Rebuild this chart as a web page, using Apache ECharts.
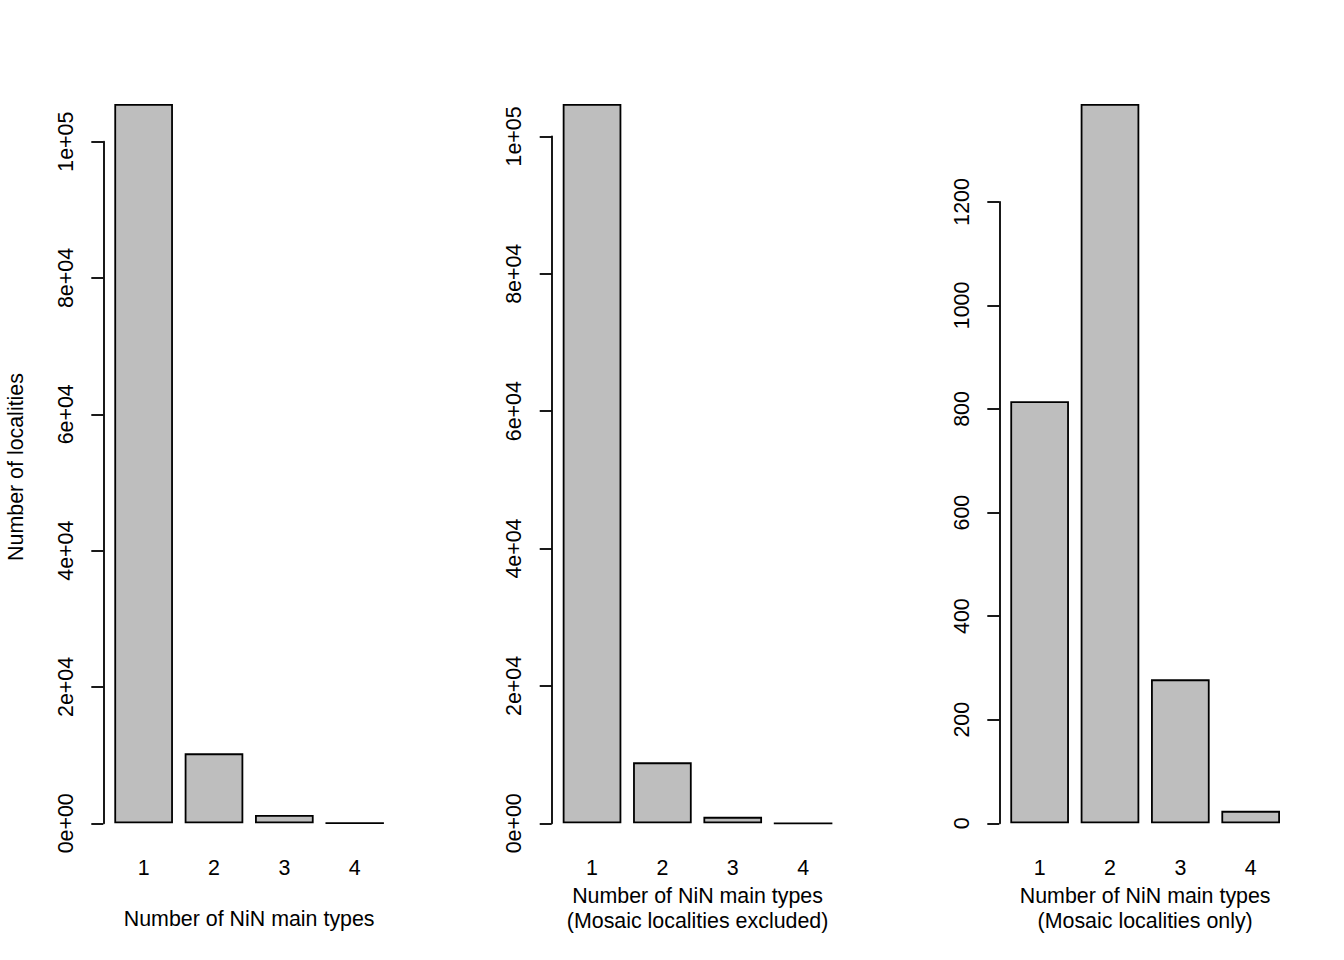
<!DOCTYPE html>
<html><head><meta charset="utf-8">
<script src="https://cdn.jsdelivr.net/npm/echarts@6/dist/echarts.min.js"></script>
<style>html,body{margin:0;padding:0;background:#fff}#c{width:1344px;height:960px}</style>
</head><body><div id="c"></div>
<script>
// ---- data ----
const categories = ['1', '2', '3', '4'];
const allLocalities = [105531, 10262, 1220, 29];
const mosaicExcluded = [104716, 8873, 942, 5];
const mosaicOnly = [815, 1389, 278, 24];
const sciTickLabels = ['0e+00', '2e+04', '4e+04', '6e+04', '8e+04', '1e+05'];
const plainTickLabels = ['0', '200', '400', '600', '800', '1000', '1200'];
const sciInterval = 20000;
const plainInterval = 200;
const xTitles = [
  'Number of NiN main types',
  'Number of NiN main types\n(Mosaic localities excluded)',
  'Number of NiN main types\n(Mosaic localities only)'
];
const yTitle = 'Number of localities';

// ---- layout / style ----
const FONT = "'Liberation Sans', Arial, Helvetica, sans-serif";
const FS = 21.4;
const zeroY = 823.3;        // pixel of value 0
const barTopY = 104;        // pixel reached by the tallest bar in every panel
const axisXs = [103.3, 551.7, 999.3];
const axisToSlot = 5.16;    // gap between y-axis line and first category slot
const gridW = 281.4;
const lineW = 1.8;

const panels = [
  { values: allLocalities, ticks: sciTickLabels, interval: sciInterval, title: xTitles[0], gap: 83 },
  { values: mosaicExcluded, ticks: sciTickLabels, interval: sciInterval, title: xTitles[1], gap: 55 },
  { values: mosaicOnly, ticks: plainTickLabels, interval: plainInterval, title: xTitles[2], gap: 55 }
];

const grids = [], xAxes = [], yAxes = [], series = [];
panels.forEach((p, i) => {
  const axisMax = (p.ticks.length - 1) * p.interval;
  const dataMax = Math.max(...p.values);
  const top = zeroY - (zeroY - barTopY) * axisMax / dataMax;
  grids.push({
    left: axisXs[i] + axisToSlot, width: gridW,
    top: top, bottom: 960 - zeroY, containLabel: false
  });
  xAxes.push({
    type: 'category', gridIndex: i, data: categories,
    axisLine: { show: false }, axisTick: { show: false },
    axisLabel: { color: '#000', fontSize: FS, fontFamily: FONT, margin: 34 },
    name: p.title, nameLocation: 'middle', nameGap: p.gap,
    nameTextStyle: { color: '#000', fontSize: FS, fontFamily: FONT, lineHeight: 25 }
  });
  const ticks = p.ticks, iv = p.interval;
  yAxes.push({
    type: 'value', gridIndex: i, min: 0, max: axisMax, interval: iv,
    offset: axisToSlot,
    axisLine: { show: true, lineStyle: { color: '#000', width: lineW } },
    axisTick: { show: true, length: 12, lineStyle: { color: '#000', width: lineW } },
    axisLabel: {
      color: '#000', fontSize: FS, fontFamily: FONT, rotate: 90, margin: 27,
      formatter: v => ticks[Math.round(v / iv)]
    },
    splitLine: { show: false }
  });
  series.push({
    type: 'bar', xAxisIndex: i, yAxisIndex: i, data: p.values,
    barCategoryGap: '16.667%', clip: false, silent: true,
    itemStyle: { color: '#bebebe', borderColor: '#000', borderWidth: lineW }
  });
});

const chart = echarts.init(document.getElementById('c'), null, { renderer: 'svg' });
chart.setOption({
  backgroundColor: '#fff',
  animation: false,
  grid: grids, xAxis: xAxes, yAxis: yAxes, series: series,
  graphic: [{
    type: 'text', x: 16, y: 467, rotation: Math.PI / 2,
    style: { text: yTitle, fill: '#000', fontSize: FS, fontFamily: FONT, align: 'center', verticalAlign: 'middle' }
  }]
});
</script>
</body></html>
